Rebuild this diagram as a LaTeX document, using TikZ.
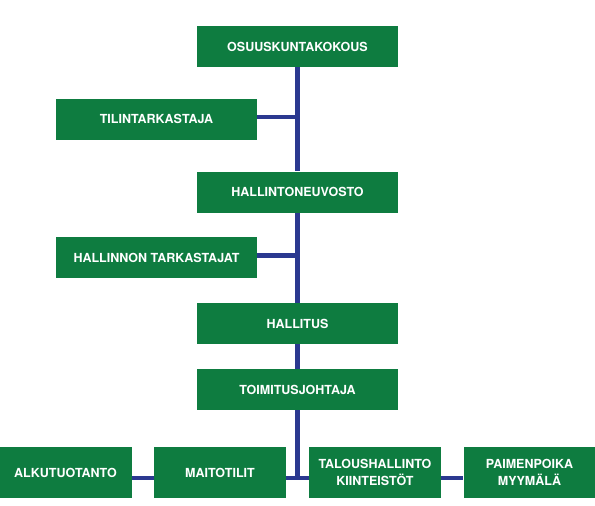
\documentclass[tikz,border=0pt]{standalone}
\usepackage{fontspec}
\setmainfont{TeX Gyre Heros}
\usepackage{tikz}
\definecolor{orggreen}{RGB}{14,124,64}
\definecolor{orgblue}{RGB}{43,57,144}
\tikzset{box/.style={fill=orggreen, text=white, minimum width=201pt, minimum height=41pt,
    inner sep=0pt, align=center, font=\bfseries\fontsize{12.5}{17}\selectfont},
  lowbox/.style={box, minimum width=132pt, minimum height=51pt},
  link/.style={draw=orgblue, line width=4.5pt}}

\begin{document}
\begin{tikzpicture}[x=1pt, y=-1pt]
\useasboundingbox (0,0) rectangle (595,506);
\node[box] (osuus) at (297.5,46.5) {OSUUSKUNTAKOKOUS};
\node[box] (tilin) at (156.5,119) {TILINTARKASTAJA};
\node[box] (neuvosto) at (297.5,192) {HALLINTONEUVOSTO};
\node[box] (tarkast) at (156.5,257.5) {HALLINNON TARKASTAJAT};
\node[box] (hallitus) at (297.5,323.5) {HALLITUS};
\node[box] (toimitus) at (297.5,389.5) {TOIMITUSJOHTAJA};
\node[lowbox] (alku) at (65.5,472.5) {ALKUTUOTANTO};
\node[lowbox] (maito) at (220,472.5) {MAITOTILIT};
\node[lowbox] (talous) at (375,472.5) {TALOUSHALLINTO\\KIINTEISTÖT};
\node[lowbox] (paimen) at (529.5,472.5) {PAIMENPOIKA\\MYYMÄLÄ};

\coordinate (jct) at ([yshift=-5.5pt]maito.east -| toimitus.south);

\draw[link] (osuus.south) to (neuvosto.north);
\draw[link] (neuvosto.south) to (hallitus.north);
\draw[link] (hallitus.south) to (toimitus.north);
\draw[link] (toimitus.south) to ([yshift=-2.25pt]jct);
\draw[link] ([yshift=2pt]tilin.east) to ([yshift=2pt]tilin.east -| osuus.south);
\draw[link] ([yshift=2pt]tarkast.east) to ([yshift=2pt]tarkast.east -| neuvosto.south);
\draw[link] ([yshift=-5.5pt]alku.east) to ([yshift=-5.5pt]maito.west);
\draw[link] ([yshift=-5.5pt]maito.east) to ([yshift=-5.5pt]talous.west);
\draw[link] ([yshift=-5.5pt]talous.east) to ([yshift=-5.5pt]paimen.west);
\end{tikzpicture}
\end{document}
